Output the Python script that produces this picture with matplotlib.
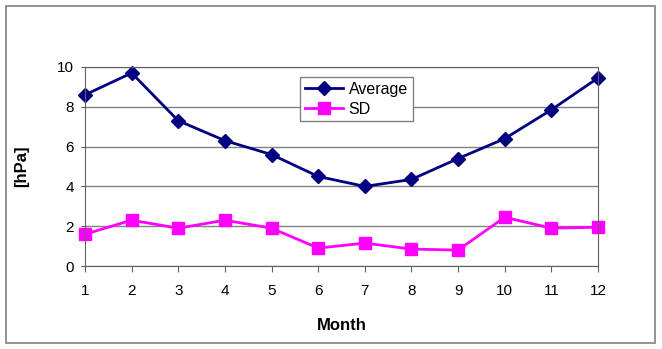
import matplotlib
matplotlib.use("Agg")
import matplotlib.pyplot as plt
from matplotlib.patches import Rectangle

months = [1, 2, 3, 4, 5, 6, 7, 8, 9, 10, 11, 12]
average = [8.6, 9.7, 7.3, 6.3, 5.6, 4.5, 4.0, 4.35, 5.4, 6.4, 7.85, 9.45]
sd = [1.6, 2.3, 1.9, 2.3, 1.9, 0.9, 1.15, 0.85, 0.8, 2.45, 1.9, 1.95]

plt.rcParams['font.family'] = ['Liberation Sans', 'DejaVu Sans']

fig = plt.figure(figsize=(6.62, 3.49), dpi=100)
fig.patches.append(Rectangle((6/662, 6/349), 649/662, 337/349, transform=fig.transFigure,
                             fill=False, edgecolor='#808080', linewidth=1.2))
ax = fig.add_axes([85/662, 1 - 266/349, 513/662, 199/349])

ax.plot(months, average, color='#000080', marker='D', markersize=7, linewidth=2,
        label='Average', clip_on=False)
ax.plot(months, sd, color='#ff00ff', marker='s', markersize=9, linewidth=2,
        label='SD', clip_on=False)

ax.set_xlim(1, 12)
ax.set_ylim(0, 10)
ax.set_xticks(months)
ax.set_yticks([0, 2, 4, 6, 8, 10])
ax.yaxis.grid(True, color='#808080', linewidth=1)
ax.set_axisbelow(True)
for s in ax.spines.values():
    s.set_color('#606060')
ax.tick_params(axis='both', labelsize=11, color='#606060', length=4, pad=9)
ax.tick_params(axis='y', length=3, pad=5)
ax.set_xlabel('Month', fontsize=12, fontweight='bold', labelpad=14)
ax.set_ylabel('[hPa]', fontsize=12, fontweight='bold', labelpad=20)

leg = ax.legend(loc='upper left', bbox_to_anchor=(215/513, 0.95), fontsize=11.5,
                fancybox=False, framealpha=1, edgecolor='#808080', handlelength=2.4,
                borderpad=0.3, labelspacing=0.3, handletextpad=0.35, borderaxespad=0)
leg.get_frame().set_linewidth(1)

fig.savefig('out.png', dpi=100)
